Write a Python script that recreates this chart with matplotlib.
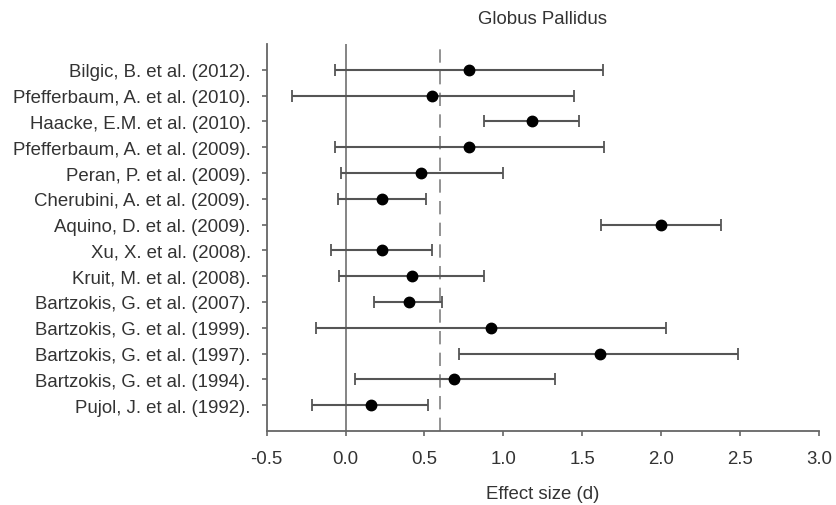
import matplotlib
matplotlib.use("Agg")
import matplotlib.pyplot as plt
import numpy as np

plt.rcParams['font.family'] = ['Liberation Sans', 'DejaVu Sans']

studies = [
    "Bilgic, B. et al. (2012).",
    "Pfefferbaum, A. et al. (2010).",
    "Haacke, E.M. et al. (2010).",
    "Pfefferbaum, A. et al. (2009).",
    "Peran, P. et al. (2009).",
    "Cherubini, A. et al. (2009).",
    "Aquino, D. et al. (2009).",
    "Xu, X. et al. (2008).",
    "Kruit, M. et al. (2008).",
    "Bartzokis, G. et al. (2007).",
    "Bartzokis, G. et al. (1999).",
    "Bartzokis, G. et al. (1997).",
    "Bartzokis, G. et al. (1994).",
    "Pujol, J. et al. (1992).",
]
effect = [0.78, 0.55, 1.18, 0.78, 0.48, 0.23, 2.00, 0.23, 0.42, 0.40, 0.92, 1.61, 0.69, 0.16]
lower = [-0.07, -0.34, 0.88, -0.07, -0.03, -0.05, 1.62, -0.09, -0.04, 0.18, -0.19, 0.72, 0.06, -0.21]
upper = [1.63, 1.45, 1.48, 1.64, 1.00, 0.51, 2.38, 0.55, 0.88, 0.61, 2.03, 2.49, 1.33, 0.52]
mean_effect = 0.6
xticks = [-0.5, 0.0, 0.5, 1.0, 1.5, 2.0, 2.5, 3.0]

fig = plt.figure(figsize=(8.37, 5.06), dpi=100)
ax = fig.add_axes([0.3186, 0.1463, 0.9783 - 0.3186, 0.911 - 0.1463])

n = len(studies)
y = np.arange(n, 0, -1)
eff = np.array(effect)
lo = np.array(lower)
hi = np.array(upper)

ax.axvline(0, color='#707070', lw=1.2, zorder=1)
ax.axvline(mean_effect, color='#808080', lw=1.2, ls=(0, (8, 5)), zorder=1)

ax.errorbar(eff, y, xerr=[eff - lo, hi - eff], fmt='o', color='black',
            ecolor='#555555', elinewidth=1.5, capsize=4.5, capthick=1.3,
            markersize=7.5, zorder=3)

ax.set_xlim(-0.5, 3.0)
ax.set_ylim(0, n + 1)
ax.set_yticks(y)
ax.set_yticklabels(studies)
ax.set_xticks(xticks)
ax.set_xticklabels([f"{t:.1f}" for t in xticks])

for s in ['top', 'right']:
    ax.spines[s].set_visible(False)
for s in ['left', 'bottom']:
    ax.spines[s].set_color('#666666')
    ax.spines[s].set_linewidth(1.3)

ax.tick_params(axis='both', colors='#666666', labelcolor='#333333', labelsize=13.4,
               length=3.5, width=1.2)
ax.tick_params(axis='y', pad=8)
ax.tick_params(axis='x', pad=10)

ax.set_title("Globus Pallidus", fontsize=13.4, color='#333333', pad=15)
ax.set_xlabel("Effect size (d)", fontsize=13.4, color='#333333', labelpad=13)

fig.savefig("out.png", dpi=100, facecolor='white')
